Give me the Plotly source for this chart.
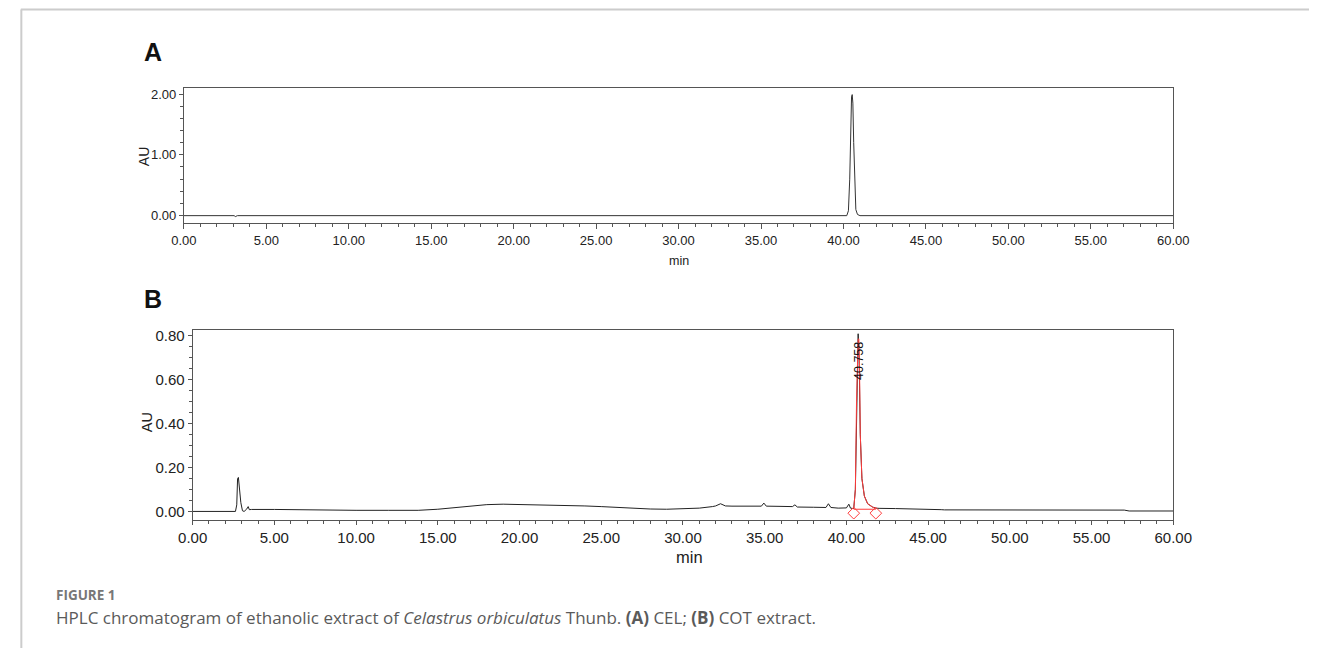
import plotly.graph_objects as go

# ---------------- data ----------------
# Panel A: CEL standard chromatogram (time in min, absorbance in AU)
a_time = [0.0, 3.05, 3.12, 3.18, 3.25, 40.2, 40.3, 40.38, 40.44, 40.49, 40.53, 40.57, 40.62, 40.68, 40.75, 40.85, 41.0, 60.0]
a_au = [0.0, 0.0, -0.015, -0.012, 0.0, 0.0, 0.08, 0.6, 1.5, 1.95, 1.99, 1.85, 1.2, 0.45, 0.1, 0.02, 0.0, 0.0]

# Panel B: COT extract chromatogram
b_time = [0.0, 2.62, 2.7, 2.75, 2.8, 2.85, 2.9, 2.95, 3.05, 3.15, 3.3, 3.4, 3.47, 3.6, 5.0, 6.0, 7.2, 7.5, 8.0,
          10.0, 12.0, 13.8, 15.0, 16.0, 17.0, 18.0, 19.0, 20.0, 21.0, 22.0, 23.0, 24.0, 25.0, 26.0, 27.0,
          28.0, 29.0, 30.0, 30.6, 31.0, 31.8, 32.0, 32.3, 32.6, 33.0, 34.0, 34.8, 34.95, 35.1, 36.0, 36.7,
          36.85, 37.0, 38.0, 38.75, 38.9, 39.05, 39.5, 40.0, 40.15, 40.25, 40.35, 40.45, 40.55, 40.62,
          40.68, 40.72, 40.78, 40.85, 40.95, 41.1, 41.3, 41.6, 41.8, 42.0, 43.0, 44.0, 45.0, 45.8, 46.0,
          47.0, 50.0, 55.0, 56.0, 57.0, 57.3, 60.0]
b_au = [0.0, 0.0, 0.03, 0.15, 0.155, 0.1, 0.065, 0.04, 0.003, 0.0, 0.01, 0.022, 0.008, 0.009, 0.009, 0.008, 0.007, 0.005, 0.005,
        0.005, 0.005, 0.005, 0.01, 0.018, 0.026, 0.031, 0.033, 0.032, 0.031, 0.03, 0.028, 0.025, 0.022, 0.018, 0.014,
        0.011, 0.01, 0.012, 0.016, 0.015, 0.022, 0.025, 0.035, 0.025, 0.024, 0.023, 0.024, 0.038, 0.024, 0.023, 0.022,
        0.03, 0.02, 0.019, 0.018, 0.035, 0.018, 0.015, 0.016, 0.033, 0.015, 0.014, 0.013, 0.1, 0.5,
        0.75, 0.81, 0.7, 0.35, 0.15, 0.07, 0.035, 0.02, 0.015, 0.014, 0.013, 0.012, 0.012, 0.008, 0.007,
        0.007, 0.006, 0.006, 0.004, 0.006, 0.002, 0.002]

# Integrated peak (red) in panel B
peak_time = [40.45, 40.55, 40.62, 40.68, 40.72, 40.76, 40.8, 40.85, 40.95, 41.1, 41.3, 41.6, 41.8]
peak_au = [0.012, 0.1, 0.5, 0.74, 0.785, 0.787, 0.68, 0.35, 0.15, 0.07, 0.035, 0.02, 0.012]
peak_base_time = [40.45, 41.8]
peak_base_au = [0.01, 0.01]
peak_marker_time = [40.45, 41.8]
peak_marker_au = [-0.008, -0.008]
peak_label = "40.758"
peak_label_time = 40.758
peak_label_au = 0.685

x_ticks = [0, 5, 10, 15, 20, 25, 30, 35, 40, 45, 50, 55, 60]
a_yticks = [0.0, 1.0, 2.0]
b_yticks = [0.0, 0.2, 0.4, 0.6, 0.8]

# ---------------- figure ----------------
W, H = 1328, 648
def px(x):
    return x / W
def py(y):
    return 1 - y / H

fontA = "Liberation Sans, Arial, sans-serif"
fontB = "Liberation Sans, Arial, sans-serif"
capfont = "Open Sans, sans-serif"
axis_col = "#555555"

fig = go.Figure()
fig.add_trace(go.Scatter(x=a_time, y=a_au, mode="lines", line=dict(color="#333333", width=1),
                         xaxis="x", yaxis="y", showlegend=False, hoverinfo="skip"))
fig.add_trace(go.Scatter(x=b_time, y=b_au, mode="lines", line=dict(color="#222222", width=1),
                         xaxis="x2", yaxis="y2", showlegend=False, hoverinfo="skip"))
fig.add_trace(go.Scatter(x=peak_time, y=peak_au, mode="lines", line=dict(color="#ff3b3b", width=1),
                         xaxis="x2", yaxis="y2", showlegend=False, hoverinfo="skip"))
fig.add_trace(go.Scatter(x=peak_base_time, y=peak_base_au, mode="lines", line=dict(color="#ff3b3b", width=1),
                         xaxis="x2", yaxis="y2", showlegend=False, hoverinfo="skip"))
fig.add_trace(go.Scatter(x=peak_marker_time, y=peak_marker_au, mode="markers",
                         marker=dict(symbol="diamond-open", size=9, color="#ff3b3b", line=dict(width=1)),
                         xaxis="x2", yaxis="y2", showlegend=False, hoverinfo="skip"))

common_axis = dict(showline=True, linecolor=axis_col, linewidth=1, mirror=True, showgrid=False,
                   zeroline=False, ticks="outside", tickcolor=axis_col)

fig.update_layout(
    width=W, height=H, margin=dict(l=0, r=0, t=0, b=0),
    paper_bgcolor="white", plot_bgcolor="white",
    xaxis=dict(domain=[px(173.3), px(1188.7)], anchor="y", range=[0, 60], tickvals=x_ticks,
               tickformat=".2f", ticklen=5, tickfont=dict(family=fontA, size=13, color="#222"),
               minor=dict(dtick=1, ticks="outside", ticklen=3, tickcolor=axis_col), **common_axis),
    yaxis=dict(domain=[py(221.7), py(86)], anchor="x", range=[-0.121, 2.103], tickvals=a_yticks,
               tickformat=".2f", ticklen=4, tickfont=dict(family=fontA, size=13, color="#222"),
               minor=dict(dtick=0.2, ticks="outside", ticklen=3, tickcolor=axis_col), **common_axis),
    xaxis2=dict(domain=[px(182.3), px(1188.7)], anchor="y2", range=[0, 60], tickvals=x_ticks,
                tickformat=".2f", ticklen=4, tickfont=dict(family=fontB, size=15, color="#222"),
                minor=dict(dtick=1, ticks="outside", ticklen=3, tickcolor=axis_col), **common_axis),
    yaxis2=dict(domain=[py(520), py(328.7)], anchor="x2", range=[-0.0409, 0.8286], tickvals=b_yticks,
                tickformat=".2f", ticklen=4, tickfont=dict(family=fontB, size=15, color="#222"),
                minor=dict(dtick=0.05, ticks="outside", ticklen=3, tickcolor=axis_col), **common_axis),
)

def label(text, x, y, size, family=fontB, color="#222", angle=0, xanchor="center", xref="paper", yref="paper"):
    return dict(text=text, x=x, y=y, xref=xref, yref=yref, showarrow=False, textangle=angle,
                xanchor=xanchor, yanchor="middle", font=dict(family=family, size=size, color=color))

ann = [
    label("<b>A</b>", px(142), py(50), 25, color="#111"),
    label("<b>B</b>", px(142), py(298), 25, color="#111"),
    label("AU", px(132), py(155), 14, fontA, angle=-90),
    label("min", px(681), py(260), 12.5, fontA),
    label("AU", px(135), py(422), 14.5, angle=-90),
    label("min", px(692), py(557), 16.5),
    label(peak_label, peak_label_time, peak_label_au, 12.5, color="#111", angle=-90, xref="x2", yref="y2"),
    label("<b>FIGURE 1</b>", px(40), py(595), 13.5, capfont, "#777", xanchor="left"),
    label("HPLC chromatogram of ethanolic extract of <i>Celastrus orbiculatus</i> Thunb. "
          "<b>(A)</b> CEL; <b>(B)</b> COT extract.", px(40), py(617), 17, capfont, "#5a5a5a",
          xanchor="left"),
]
fig.update_layout(annotations=ann)

fig.update_layout(shapes=[
    dict(type="line", xref="paper", yref="paper", x0=px(6), x1=1, y0=py(7.5), y1=py(7.5),
         line=dict(color="#cccccc", width=2)),
    dict(type="line", xref="paper", yref="paper", x0=px(6.5), x1=px(6.5), y0=py(7.5), y1=0,
         line=dict(color="#cccccc", width=2)),
])

fig.write_html("out.html", config={"displayModeBar": False},
               post_script="document.body.style.margin='0';document.body.style.overflow='hidden';")
